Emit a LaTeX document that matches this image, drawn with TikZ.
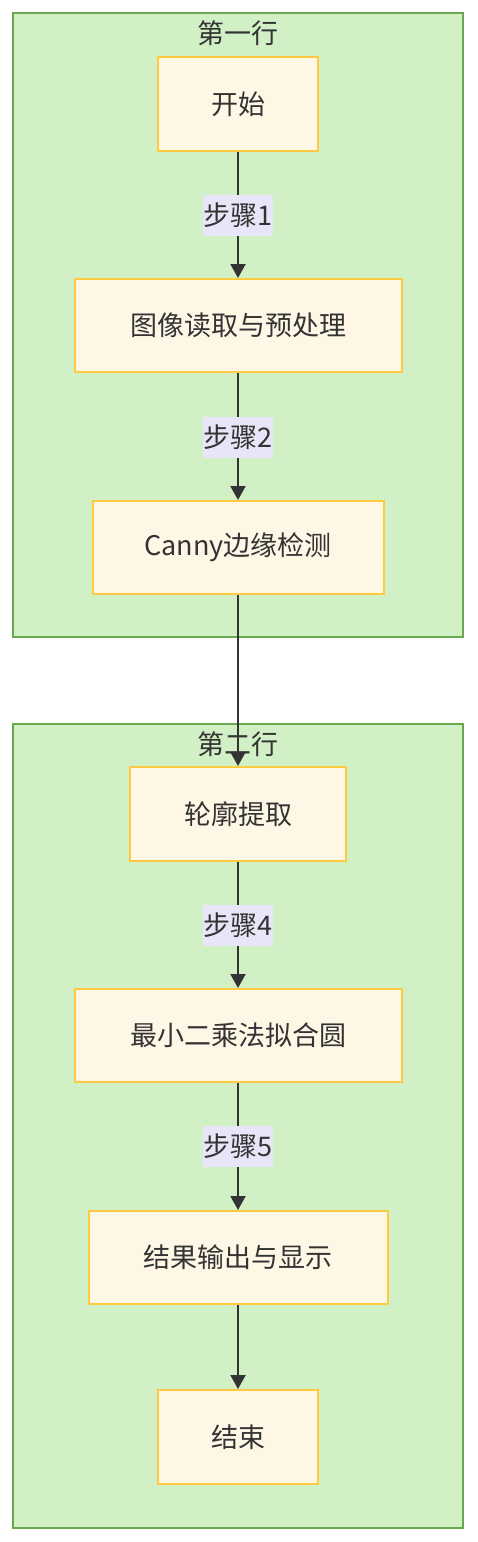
\documentclass[tikz,border=0pt]{standalone}
\usepackage{fontspec}
\setmainfont{Noto Sans CJK SC}
\usetikzlibrary{arrows.meta}
\definecolor{clfill}{HTML}{D2F0C6}
\definecolor{cldraw}{HTML}{6AA84F}
\definecolor{bxfill}{HTML}{FFF7E6}
\definecolor{bxdraw}{HTML}{FFC940}
\definecolor{txt}{HTML}{333333}
\definecolor{lblbg}{HTML}{E6E6F8}
\tikzset{
  cluster/.style={draw=cldraw, fill=clfill, line width=2pt},
  cltitle/.style={text=txt, font=\fontsize{27}{32}\selectfont, inner sep=0pt},
  box/.style={draw=bxdraw, fill=bxfill, line width=2pt, text=txt, inner sep=0pt,
    font=\fontsize{27}{32}\selectfont},
  edge/.style={draw=txt, line width=2pt, -{Triangle[length=14pt,width=15pt]}},
  lbl/.style={fill=lblbg, text=txt, inner xsep=1pt, inner ysep=0pt, minimum height=41pt,
    font=\fontsize{27}{32}\selectfont}
}
\begin{document}
\begin{tikzpicture}[x=1pt,y=-1pt]
\useasboundingbox (0,0) rectangle (477,1542);
\fill[white] (0,0) rectangle (477,1542);
% clusters
\draw[cluster] (13,13) rectangle (463,637);
\draw[cluster] (13,724) rectangle (463,1528);
\node[cltitle] (t1) at (238,33) {第一行};
\node[cltitle] (t2) at (238,744) {第二行};
% nodes
\node[box, minimum width=160pt, minimum height=94pt] (n1) at (238,104) {开始};
\node[box, minimum width=327pt, minimum height=93pt] (n2) at (238,325.5) {图像读取与预处理};
\node[box, minimum width=291pt, minimum height=93pt] (n3) at (238,547.5) {Canny边缘检测};
\node[box, minimum width=216pt, minimum height=94pt] (n4) at (238,814) {轮廓提取};
\node[box, minimum width=327pt, minimum height=93pt] (n5) at (238,1035.5) {最小二乘法拟合圆};
\node[box, minimum width=299pt, minimum height=93pt] (n6) at (238,1257.5) {结果输出与显示};
\node[box, minimum width=160pt, minimum height=94pt] (n7) at (238,1437) {结束};
% edges
\draw[edge] (n1.south) -- (n2.north);
\draw[edge] (n2.south) -- (n3.north);
\draw[edge] (n3.south) -- (n4.north);
\draw[edge] (n4.south) -- (n5.north);
\draw[edge] (n5.south) -- (n6.north);
\draw[edge] (n6.south) -- (n7.north);
% labels
\node[lbl] (l1) at (238,215) {步骤1};
\node[lbl] (l2) at (238,437) {步骤2};
\node[lbl] (l4) at (238,925) {步骤4};
\node[lbl] (l5) at (238,1146.5) {步骤5};
\end{tikzpicture}
\end{document}
